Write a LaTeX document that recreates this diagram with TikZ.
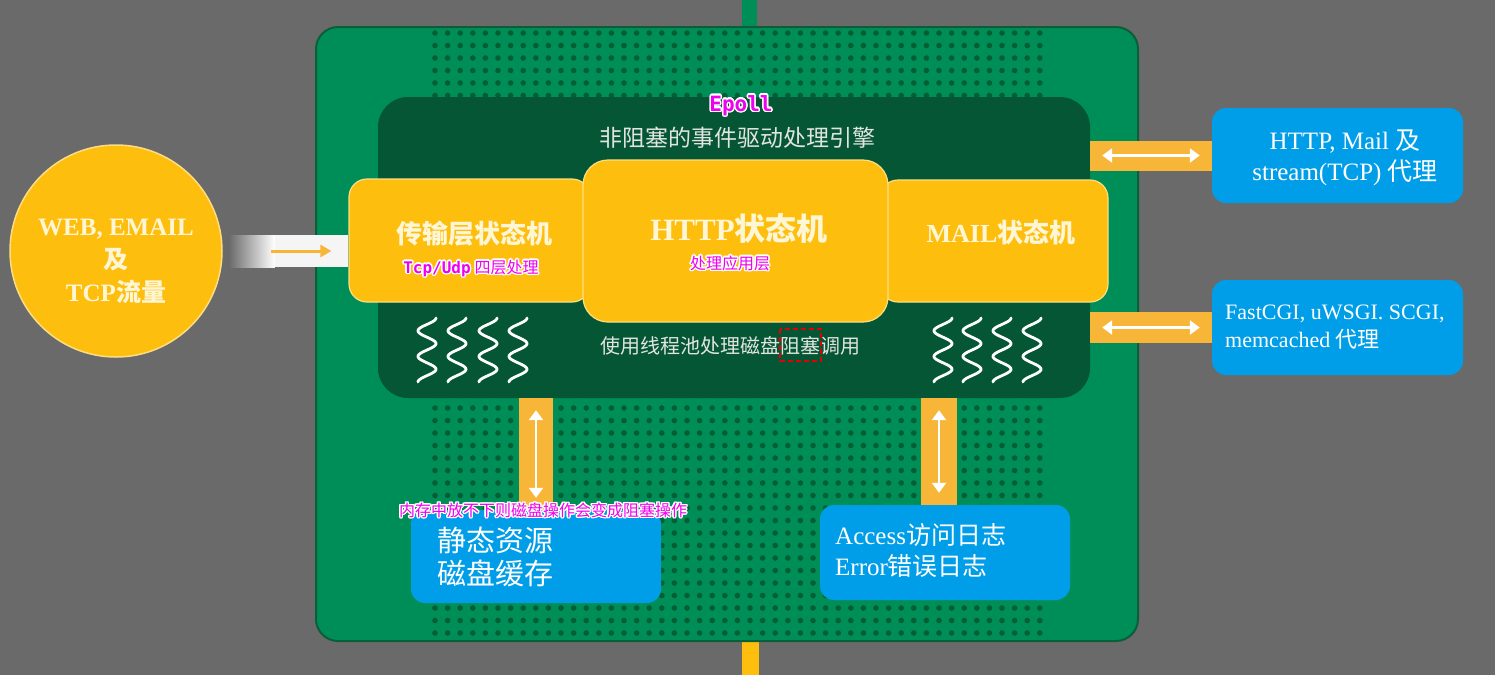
\documentclass[tikz,border=0pt]{standalone}
\usepackage{fontspec}
\setmainfont{Liberation Serif}
\newfontfamily\cjk{Noto Sans CJK SC}
\newfontfamily\mono{DejaVu Sans Mono}
\usepackage[copies]{contour}
\contourlength{1.4pt}
\usetikzlibrary{arrows.meta}
\definecolor{bg}{RGB}{106,106,106}
\definecolor{pgreen}{RGB}{0,142,88}
\definecolor{pborder}{RGB}{10,95,58}
\definecolor{dgreen}{RGB}{5,86,52}
\definecolor{dotc}{RGB}{4,94,52}
\definecolor{ybox}{RGB}{254,190,14}
\definecolor{yedge}{RGB}{252,222,130}
\definecolor{oband}{RGB}{247,182,55}
\definecolor{bbox}{RGB}{0,158,232}
\definecolor{ltext}{RGB}{226,228,226}
\definecolor{ytext}{RGB}{255,246,214}
\definecolor{mag}{RGB}{240,0,240}
\newcommand{\fs}[2]{\fontsize{#1}{#2}\selectfont}
\tikzset{
  ystate/.style={fill=ybox, draw=yedge, line width=1.2pt, rounded corners=18pt, inner sep=0pt},
  bluebox/.style={fill=bbox, rounded corners=14pt, inner sep=0pt},
  band/.style={fill=oband},
  warrow/.style={draw=white, line width=2.8pt, {Triangle[width=14pt,length=10pt]}-{Triangle[width=14pt,length=10pt]}},
  wave/.style={draw=white, line width=2.8pt, line cap=round},
  lbl/.style={inner sep=0pt},
}
\begin{document}
\begin{tikzpicture}[x=1pt,y=-1pt]
\useasboundingbox (0,0) rectangle (1495,675);
\fill[bg] (0,0) rectangle (1495,675);
% top and bottom stubs
\fill[pgreen] (742,0) rectangle (757,30);
\fill[ybox] (742,638) rectangle (759,675);
% main panel
\node[fill=pgreen, draw=pborder, line width=2pt, rounded corners=22pt, minimum width=822pt, minimum height=614pt, inner sep=0pt] (panel) at (727,334) {};
% dots
\foreach \i in {0,...,48}{
  \foreach \j in {0,...,48}{
    \fill[dotc] ({435+12.6*\i},{33+12.5*\j}) circle[radius=2.8pt];
  }
}
% dark engine panel
\node[fill=dgreen, rounded corners=30pt, minimum width=712pt, minimum height=301pt, inner sep=0pt] (dark) at (734,247.5) {};
\node[lbl, text=ltext, font={\cjk\fs{23}{28}}] (engine) at (737,138) {非阻塞的事件驱动处理引擎};
\node[lbl, font={\mono\bfseries\fs{21}{24}}] (epoll) at (741,106) {\color{mag}\contour{white}{Epoll}};
% yellow state machines
\node[ystate, minimum width=241pt, minimum height=123pt] (tl) at (469.5,240.5) {};
\node[ystate, minimum width=228pt, minimum height=122pt] (ml) at (994,241) {};
\node[ystate, rounded corners=25pt, minimum width=305pt, minimum height=162pt] (hl) at (735.5,241) {};
\node[lbl, text=ytext, font={\cjk\bfseries\fs{26}{30}}] (tltext) at (474,234) {传输层状态机};
\node[lbl, font={\fs{16}{18}}] (tlnote) at (471,269) {\color{mag}\contour{white}{{\mono\bfseries Tcp/Udp} {\cjk 四层处理}}};
\node[lbl, text=ytext, font={\bfseries\fs{31}{34}}] (hltext) at (739,228) {HTTP{\cjk 状态机}};
\node[lbl, font={\cjk\fs{16}{18}}] (hlnote) at (730,264) {\color{mag}\contour{white}{处理应用层}};
\node[lbl, text=ytext, font={\bfseries\fs{26}{30}}] (mltext) at (1001,232) {MAIL{\cjk 状态机}};
% thread pool
\node[lbl, text=ltext, font={\cjk\fs{20}{24}}] (pool) at (730,346) {使用线程池处理磁盘阻塞调用};
\draw[red!90!black, dash pattern=on 5pt off 3pt, line width=1.5pt] (780,329) rectangle (821,361);
\foreach \c in {427,457,488,518,943,972,1002,1032}{
  \draw[wave] plot[variable=\t, domain=0:1, samples=80, smooth] ({\c+9*cos(900*\t)},{318+64*\t});
}
% source circle and input
\node[circle, fill=ybox, draw=yedge, line width=1.5pt, minimum size=212pt, inner sep=0pt] (circ) at (116,251) {};
\node[lbl, text=ytext, align=center, font={\bfseries\fs{25}{33}}] (circtext) at (116,261) {WEB, EMAIL\\{\cjk 及}\\TCP{\cjk 流量}};
\coordinate (a1) at (tl.west |- circ.east);
\shade[left color=bg, right color=white] ([xshift=6pt,yshift=16pt]circ.east) rectangle ([xshift=52pt,yshift=-16pt]circ.east);
\fill[white!93!bg] ([xshift=52pt,yshift=16pt]circ.east) rectangle ([yshift=-16pt]a1);
\draw[oband, line width=3pt, -{Triangle[width=12pt,length=11pt]}] ([xshift=48pt]circ.east) -- ([xshift=-17pt]a1);
% right proxies
\node[bluebox, minimum width=251pt, minimum height=95pt] (hp) at (1337.5,155.5) {};
\node[lbl, text=white, align=center, font={\fs{25}{31}}] (hptext) at (1345,158) {HTTP, Mail {\cjk 及}\\stream(TCP) {\cjk 代理}};
\node[bluebox, minimum width=251pt, minimum height=95pt] (fp) at (1337.5,327.5) {};
\node[lbl, text=white, align=left, anchor=west, font={\fs{22}{28}}] (fptext) at (1225,327) {FastCGI, uWSGI. SCGI,\\memcached {\cjk 代理}};
\coordinate (r1) at (dark.east |- hp.west);
\coordinate (r2) at (dark.east |- fp.west);
\fill[band] ([yshift=15pt]r1) rectangle ([yshift=-15pt]hp.west);
\fill[band] ([yshift=15.5pt]r2) rectangle ([yshift=-15.5pt]fp.west);
\draw[warrow] ([xshift=12pt]r1) -- ([xshift=-12pt]hp.west);
\draw[warrow] ([xshift=12pt]r2) -- ([xshift=-12pt]fp.west);
% bottom stores
\node[bluebox, minimum width=250pt, minimum height=93pt] (sbox) at (536,556.5) {};
\node[lbl, text=white, align=left, anchor=west, font={\cjk\fs{29}{33}}] (stext) at (437,557) {静态资源\\磁盘缓存};
\node[bluebox, minimum width=250pt, minimum height=95pt] (lbox) at (945,552.5) {};
\node[lbl, text=white, align=left, anchor=west, font={\fs{25}{31}}] (ltext) at (835,551) {Access{\cjk 访问日志}\\Error{\cjk 错误日志}};
\coordinate (v1) at (sbox.north |- dark.south);
\fill[band] ([xshift=-17pt]v1) rectangle ([xshift=17pt]sbox.north);
\draw[warrow] ([yshift=-12pt]v1) -- ([yshift=12pt]sbox.north);
\coordinate (v2b) at ([xshift=-6pt]lbox.north);
\coordinate (v2t) at (v2b |- dark.south);
\fill[band] ([xshift=-18pt]v2t) rectangle ([xshift=18pt]v2b);
\draw[warrow] ([yshift=-12pt]v2t) -- ([yshift=12pt]v2b);
\node[lbl, font={\cjk\fs{16}{18}}] (memnote) at (543,511) {\color{mag}\contour{white}{内存中放不下则磁盘操作会变成阻塞操作}};
\end{tikzpicture}
\end{document}
